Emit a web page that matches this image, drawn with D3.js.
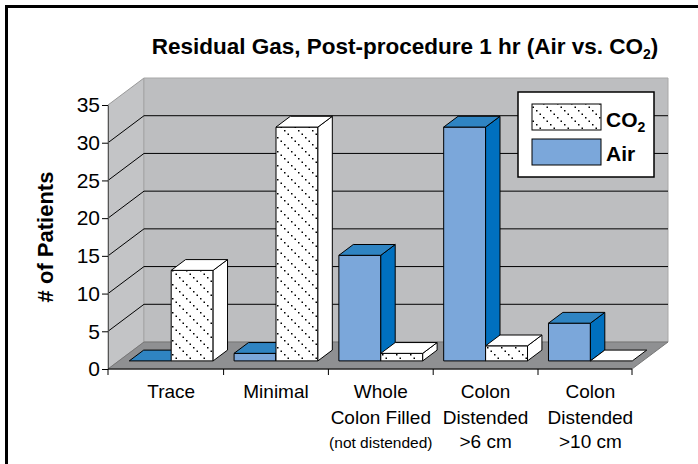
<!DOCTYPE html>
<html>
<head>
<meta charset="utf-8">
<script src="https://cdn.jsdelivr.net/npm/d3@7"></script>
<style>
  body { margin: 0; background: #fff; }
  svg, svg text { font-family: "Liberation Sans", Arial, Helvetica, sans-serif; }
</style>
</head>
<body>
<svg width="698" height="464"></svg>
<script>
// chart values
var categories = [["Trace"], ["Minimal"], ["Whole", "Colon Filled", "(not distended)"],
                  ["Colon", "Distended", ">6 cm"], ["Colon", "Distended", ">10 cm"]];
var series = ["Air", "CO2"];
var airValues = [0, 1, 14, 31, 5];
var co2Values = [12, 31, 1, 2, 0];
var yTicks = [0, 5, 10, 15, 20, 25, 30, 35];

var svg = d3.select("svg");
var FONT = "Liberation Sans, Arial, Helvetica, sans-serif";

// depth of the box, and where the bar row sits inside it
var depthX = 36, depthY = -27;
var d0 = 0.3, d1 = 0.7;

var x = d3.scaleBand()
        .domain(d3.range(categories.length))
        .range([108, 632])
        .paddingInner(0.2)
        .paddingOuter(0.1);
var xs = d3.scaleBand().domain(series).range([0, x.bandwidth()]);
var y = d3.scaleLinear().domain([0, 35]).range([369, 105]);

function P(px, v, d) { return [px + depthX * d, y(v) + depthY * d]; }
function poly(pts) { return "M" + pts.map(function(p) { return p.join(","); }).join("L") + "Z"; }

// hatch pattern for CO2 (dotted diagonal lines)
var defs = svg.append("defs");
var pat = defs.append("pattern")
        .attr("id", "hatch")
        .attr("patternUnits", "userSpaceOnUse")
        .attr("width", 14).attr("height", 14);
pat.append("rect").attr("width", 14).attr("height", 14).attr("fill", "#fff");
[0.5, 4, 7.5, 11].forEach(function(t) {
  pat.append("rect").attr("x", t).attr("y", t).attr("width", 1.5).attr("height", 1.5).attr("fill", "#000");
});

// outer frame
svg.append("rect")
   .attr("x", 6.5).attr("y", 6.5).attr("width", 720).attr("height", 480)
   .attr("fill", "#fff").attr("stroke", "#000").attr("stroke-width", 3);

// title
var title = svg.append("text")
   .attr("x", 405).attr("y", 54)
   .attr("text-anchor", "middle")
   .style("font-weight", "bold").style("font-size", "22.5px");
title.append("tspan").text("Residual Gas, Post-procedure 1 hr (Air vs. CO");
title.append("tspan").attr("dy", 5).style("font-size", "14px").text("2");
title.append("tspan").attr("dy", -5).text(")");

var x0 = x.range()[0], x1 = x.range()[1];

// walls and floor
svg.append("path")
   .attr("d", poly([P(x0, 0, 0), P(x0, 35, 0), P(x0, 35, 1), P(x0, 0, 1)]))
   .attr("fill", "#c3c4c6").attr("stroke", "#999");
svg.append("path")
   .attr("d", poly([P(x0, 0, 1), P(x0, 35, 1), P(x1, 35, 1), P(x1, 0, 1)]))
   .attr("fill", "#bdbec0").attr("stroke", "#a8a8a8");
svg.append("path")
   .attr("d", poly([P(x0, 0, 0), P(x1, 0, 0), P(x1, 0, 1), P(x0, 0, 1)]))
   .attr("fill", "#8f9092").attr("stroke", "#777");

// gridlines
svg.append("g").selectAll("path")
   .data(yTicks.filter(function(v) { return v > 0 && v < 35; }))
   .enter().append("path")
   .attr("d", function(v) {
     return "M" + P(x0, v, 0) + "L" + P(x0, v, 1) + "L" + P(x1, v, 1);
   })
   .attr("fill", "none").attr("stroke", "#000").attr("stroke-width", 1);

// bars, drawn left to right so later faces cover earlier sides
var bars = [];
categories.forEach(function(c, i) {
  bars.push({ i: i, s: "Air", v: airValues[i] });
  bars.push({ i: i, s: "CO2", v: co2Values[i] });
});

var colors = {
  Air: { front: "#7ba7da", side: "#0070bf", top: "#2f84c2" },
  CO2: { front: "url(#hatch)", side: "#fff", top: "#fff" }
};

var barG = svg.append("g").selectAll("g").data(bars).enter().append("g");
barG.each(function(b) {
  var g = d3.select(this);
  var bx0 = x(b.i) + xs(b.s), bx1 = bx0 + xs.bandwidth();
  var col = colors[b.s];
  if (b.v > 0) {
    g.append("path")
     .attr("d", poly([P(bx0, 0, d0), P(bx1, 0, d0), P(bx1, b.v, d0), P(bx0, b.v, d0)]))
     .attr("fill", col.front).attr("stroke", "#000");
    g.append("path")
     .attr("d", poly([P(bx1, 0, d0), P(bx1, b.v, d0), P(bx1, b.v, d1), P(bx1, 0, d1)]))
     .attr("fill", col.side).attr("stroke", "#000");
  }
  g.append("path")
   .attr("d", poly([P(bx0, b.v, d0), P(bx1, b.v, d0), P(bx1, b.v, d1), P(bx0, b.v, d1)]))
   .attr("fill", col.top).attr("stroke", "#000");
});

// y axis
var yAxis = svg.append("g")
   .attr("transform", "translate(" + x0 + ",0)")
   .call(d3.axisLeft(y).tickValues(yTicks).tickSize(6).tickPadding(2).tickSizeOuter(0));
yAxis.attr("font-family", FONT).attr("font-size", 21);
yAxis.select(".domain").attr("stroke", "#555");
yAxis.selectAll(".tick line").attr("stroke", "#000");
yAxis.selectAll(".tick text").attr("fill", "#000");

// x axis: front edge of floor with ticks
var tickX = [x0];
for (var k = 1; k < categories.length; k++) {
  tickX.push(P(x0 + x.step() * k, 0, d0)[0]);
}
tickX.push(x1);
svg.append("line")
   .attr("x1", x0).attr("x2", x1).attr("y1", y(0)).attr("y2", y(0))
   .attr("stroke", "#000");
svg.append("g").selectAll("line").data(tickX).enter().append("line")
   .attr("x1", function(d) { return d; }).attr("x2", function(d) { return d; })
   .attr("y1", y(0)).attr("y2", y(0) + 6)
   .attr("stroke", "#000");

// category labels
var lineY = [398, 424, 448];
var lab = svg.append("g").selectAll("text").data(categories).enter().append("text")
   .attr("text-anchor", "middle");
lab.each(function(c, i) {
  var t = d3.select(this);
  var cx = P(x(i) + x.bandwidth() / 2, 0, d0)[0];
  c.forEach(function(line, j) {
    t.append("tspan")
     .attr("x", cx).attr("y", lineY[j])
     .style("font-size", line.charAt(0) === "(" ? "15.5px" : "19px")
     .text(line);
  });
});

// y axis title
svg.append("text")
   .attr("transform", "translate(53,237) rotate(-90)")
   .attr("text-anchor", "middle")
   .style("font-weight", "bold").style("font-size", "22px")
   .text("# of Patients");

// legend
var leg = svg.append("g").attr("transform", "translate(518,92)");
leg.append("rect").attr("width", 136).attr("height", 85)
   .attr("fill", "#fff").attr("stroke", "#000").attr("stroke-width", 1.5);
leg.append("rect").attr("x", 14).attr("y", 12).attr("width", 69).attr("height", 26)
   .attr("fill", "url(#hatch)").attr("stroke", "#000");
leg.append("rect").attr("x", 14).attr("y", 47).attr("width", 69).attr("height", 26)
   .attr("fill", colors.Air.front).attr("stroke", "#000");
var lt = leg.append("text").attr("x", 88).attr("y", 35)
   .style("font-weight", "bold").style("font-size", "21px");
lt.append("tspan").text("CO");
lt.append("tspan").attr("dy", 5).style("font-size", "14px").text("2");
leg.append("text").attr("x", 88).attr("y", 69)
   .style("font-weight", "bold").style("font-size", "21px")
   .text("Air");
</script>
</body>
</html>
